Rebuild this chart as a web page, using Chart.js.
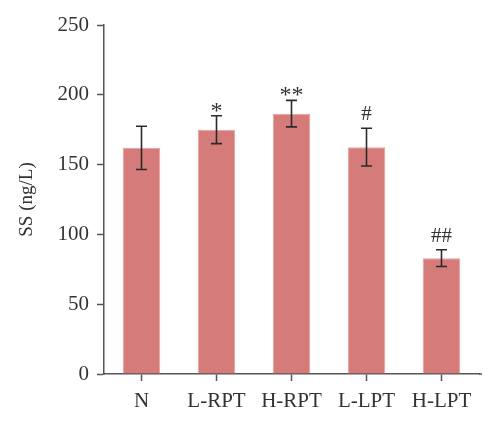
<!DOCTYPE html>
<html>
<head>
<meta charset="utf-8">
<script src="https://cdn.jsdelivr.net/npm/chart.js@4.4.0/dist/chart.umd.min.js"></script>
<style>
  html, body { margin: 0; padding: 0; background: #fff; }
  #wrap { width: 500px; height: 428px; }
</style>
</head>
<body>
<div id="wrap"><canvas id="chart" width="500" height="428"></canvas></div>
<script>
// 数据
const groups = ['N', 'L-RPT', 'H-RPT', 'L-LPT', 'H-LPT'];
const means = [162, 175, 186.5, 162.5, 83];
const errors = [15.5, 10, 9.5, 13.5, 6];
const marks = ['', '*', '**', '#', '##'];
const yTicks = [0, 50, 100, 150, 200, 250];

const serif = '"Liberation Serif", "DejaVu Serif", serif';

// 误差线和显著性标记
const errorBarPlugin = {
    id: 'errorBars',
    afterDatasetsDraw(chart) {
        const ctx = chart.ctx;
        const meta = chart.getDatasetMeta(0);
        const y = chart.scales.y;
        ctx.save();
        ctx.strokeStyle = '#2a2a2a';
        ctx.lineWidth = 1.6;
        meta.data.forEach((bar, i) => {
            const x = bar.x;
            const top = y.getPixelForValue(means[i] + errors[i]);
            const bot = y.getPixelForValue(means[i] - errors[i]);
            ctx.beginPath();
            ctx.moveTo(x, top); ctx.lineTo(x, bot);
            ctx.moveTo(x - 5.5, top); ctx.lineTo(x + 5.5, top);
            ctx.moveTo(x - 5.5, bot); ctx.lineTo(x + 5.5, bot);
            ctx.stroke();
            if (marks[i]) {
                ctx.fillStyle = '#333';
                ctx.textAlign = 'center';
                ctx.textBaseline = 'alphabetic';
                if (marks[i].startsWith('*')) {
                    ctx.font = '24px ' + serif;
                    ctx.fillText(marks[i], x, top + 2);
                } else {
                    ctx.font = '21px ' + serif;
                    ctx.fillText(marks[i], x, top - 8);
                }
            }
        });
        // x轴向右略微延伸
        const area = chart.chartArea;
        ctx.strokeStyle = '#555';
        ctx.lineWidth = 1.5;
        ctx.beginPath();
        ctx.moveTo(area.right, y.getPixelForValue(0));
        ctx.lineTo(area.right + 3, y.getPixelForValue(0));
        ctx.stroke();
        ctx.restore();
    }
};

new Chart(document.getElementById('chart'), {
    type: 'bar',
    data: {
        labels: groups,
        datasets: [{
            data: means,
            backgroundColor: 'rgb(213, 123, 122)',
            borderColor: 'rgb(232, 160, 158)',
            borderWidth: 1,
            barPercentage: 0.5,
            categoryPercentage: 1.0
        }]
    },
    options: {
        responsive: false,
        animation: false,
        devicePixelRatio: 1,
        layout: {
            padding: { top: 25, right: 21, left: 0, bottom: 0 }
        },
        scales: {
            x: {
                offset: true,
                grid: {
                    display: true,
                    drawOnChartArea: false,
                    offset: false,
                    tickLength: 7,
                    tickWidth: 1.5,
                    tickColor: '#555'
                },
                border: { color: '#555', width: 1.5 },
                ticks: {
                    color: '#333',
                    font: { family: serif, size: 21 },
                    padding: 8
                },
                afterFit(scale) { scale.height = 54; }
            },
            y: {
                min: 0,
                max: 250,
                afterBuildTicks(scale) {
                    scale.ticks = yTicks.map(v => ({ value: v }));
                },
                grid: {
                    display: true,
                    drawOnChartArea: false,
                    tickLength: 7,
                    tickWidth: 1.5,
                    tickColor: '#555'
                },
                border: { color: '#555', width: 1.5 },
                ticks: {
                    color: '#333',
                    font: { family: serif, size: 21 },
                    padding: 8
                },
                title: {
                    display: true,
                    text: 'SS (ng/L)',
                    color: '#333',
                    font: { family: serif, size: 19 },
                    padding: { top: 16, bottom: 0 }
                },
                afterFit(scale) { scale.width = 104; }
            }
        },
        plugins: {
            legend: { display: false },
            tooltip: { enabled: false }
        }
    },
    plugins: [errorBarPlugin]
});
</script>
</body>
</html>
